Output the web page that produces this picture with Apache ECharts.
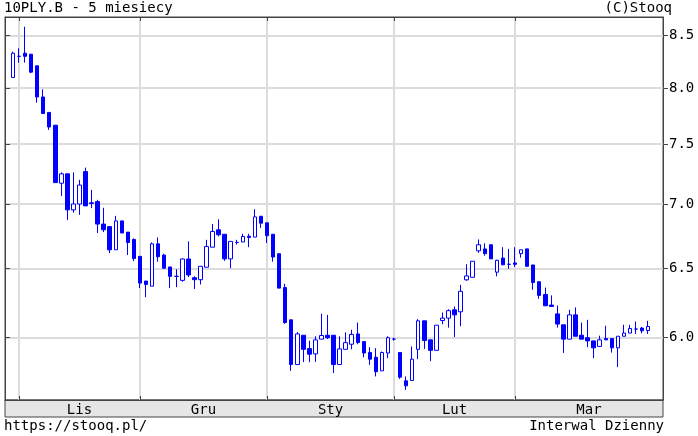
<!DOCTYPE html>
<html><head><meta charset="utf-8">
<script src="https://cdn.jsdelivr.net/npm/echarts@6/dist/echarts.min.js"></script>
<style>html,body{margin:0;padding:0;background:#fff}#c{width:698px;height:436px}</style>
</head><body><div id="c"></div>
<script>
// Daily OHLC of 10PLY.B (Oct 31 .. Mar 31)
const openV = [8.10,8.30,8.33,8.32,8.21,7.92,7.78,7.666,7.17,7.248,
 6.953,7.0,7.267,7.01,7.02,6.84,6.82,6.64,6.865,6.777,
 6.72,6.59,6.405,6.367,6.686,6.60,6.51,6.44,6.41,6.57,
 6.43,6.415,6.508,6.66,6.795,6.76,6.571,6.697,6.70,6.745,
 6.738,6.902,6.85,6.76,6.61,6.357,6.125,5.817,6.017,5.925,
 5.889,5.99,6.017,6.017,5.817,5.92,5.955,6.026,5.973,5.898,
 5.866,5.775,5.895,5.99,5.898,5.709,5.711,5.92,6.118,5.985,
 5.913,6.12,6.137,6.196,6.182,6.414,6.433,6.632,6.647,6.679,
 6.471,6.577,6.53,6.54,6.611,6.647,6.525,6.40,6.307,6.23,
 6.167,6.09,5.99,6.16,6.017,6.0,5.978,5.94,5.994,5.994,
 5.93,6.01,6.032,6.06,6.067,6.05];
const closeV = [8.33,8.30,8.30,8.15,7.92,7.77,7.65,7.175,7.248,6.953,
 7.0,7.155,6.985,7.005,6.84,6.795,6.64,6.865,6.77,6.696,
 6.574,6.39,6.38,6.686,6.587,6.50,6.44,6.44,6.57,6.45,
 6.415,6.515,6.665,6.782,6.756,6.571,6.705,6.697,6.743,6.735,
 6.897,6.847,6.749,6.585,6.353,6.106,5.817,6.026,5.92,5.887,
 5.985,6.015,6.0,5.817,5.923,5.966,6.023,5.967,5.895,5.853,
 5.769,5.898,6.0,5.99,5.733,5.676,5.853,6.118,5.98,5.913,
 6.087,6.137,6.19,6.16,6.33,6.443,6.553,6.679,6.611,6.571,
 6.56,6.526,6.53,6.53,6.64,6.515,6.394,6.30,6.225,6.22,
 6.095,5.99,6.16,6.01,5.99,5.978,5.93,5.985,5.985,5.93,
 6.01,6.032,6.064,6.06,6.048,6.078];
const lowV = [8.10,8.24,8.24,8.14,7.868,7.77,7.625,7.175,7.066,6.873,
 6.93,6.913,6.985,6.967,6.77,6.777,6.615,6.64,6.77,6.60,
 6.554,6.353,6.287,6.367,6.55,6.50,6.353,6.36,6.40,6.435,
 6.346,6.38,6.508,6.66,6.743,6.556,6.50,6.68,6.70,6.66,
 6.738,6.81,6.692,6.55,6.353,6.097,5.775,5.817,5.833,5.833,
 5.835,5.99,5.99,5.76,5.817,5.92,5.92,5.955,5.866,5.815,
 5.738,5.775,5.86,5.98,5.722,5.65,5.711,5.853,5.923,5.84,
 5.913,6.094,6.07,6.005,6.08,6.407,6.433,6.617,6.595,6.571,
 6.44,6.526,6.496,6.51,6.58,6.515,6.341,6.275,6.225,6.22,
 6.07,5.895,5.99,6.01,5.99,5.935,5.86,5.94,5.985,5.898,
 5.80,6.01,6.032,6.026,6.03,6.026];
const highV = [8.345,8.377,8.588,8.32,8.21,7.99,7.78,7.666,7.26,7.248,
 7.26,7.198,7.30,7.115,7.034,6.97,6.82,6.905,6.865,6.777,
 6.728,6.59,6.405,6.697,6.735,6.61,6.51,6.493,6.575,6.705,
 6.44,6.515,6.717,6.841,6.878,6.76,6.705,6.717,6.764,6.764,
 6.958,6.902,6.85,6.76,6.61,6.385,6.125,6.04,6.017,5.979,
 6.01,6.168,6.16,6.017,6.01,6.037,6.055,6.106,5.973,5.935,
 5.928,5.905,6.01,6.0,5.898,5.738,5.94,6.13,6.118,5.985,
 6.087,6.177,6.20,6.22,6.377,6.531,6.553,6.72,6.69,6.679,
 6.565,6.66,6.647,6.66,6.64,6.647,6.525,6.40,6.357,6.30,
 6.227,6.09,6.196,6.213,6.106,6.125,5.978,6.014,6.083,5.994,
 6.01,6.09,6.09,6.113,6.075,6.118];

const monthLabels = ['Lis','Gru','Sty','Lut','Mar'];
const monthStartIdx = [1,21,42,63,83];
const yTickValues = [6.0,6.5,7.0,7.5,8.0,8.5];
const yMin = 5.584, yMax = 8.685;
const xMin = -1.314, xMax = 107.46;

const ln = Math.log;
const candleData = openV.map((o,i)=>[i, ln(o), ln(closeV[i]), ln(lowV[i]), ln(highV[i])]);
const monthEnds = monthStartIdx.slice(1).concat([xMax]);
const monthMid = monthStartIdx.map((s,i)=>(s+monthEnds[i])/2);
const yTickLn = yTickValues.map(v=>ln(v));

const FONT = 'DejaVu Sans Mono';
const BLUE = '#0000ff';
const FRAME = '#444';

const chart = echarts.init(document.getElementById('c'), null, {renderer:'canvas'});
chart.setOption({
  backgroundColor:'#ffffff',
  animation:false,
  title:[
    {text:'10PLY.B - 5 miesiecy', left:4, top:1, padding:0, textStyle:{fontFamily:FONT,fontSize:14,fontWeight:'normal',color:'#000'}},
    {text:'(C)Stooq', right:26, top:1, padding:0, textStyle:{fontFamily:FONT,fontSize:14,fontWeight:'normal',color:'#000'}},
    {text:'https://stooq.pl/', left:4, top:419, padding:0, textStyle:{fontFamily:FONT,fontSize:14,fontWeight:'normal',color:'#000'}},
    {text:'Interwal Dzienny', right:34, top:419, padding:0, textStyle:{fontFamily:FONT,fontSize:14,fontWeight:'normal',color:'#000'}}
  ],
  graphic:[{type:'rect', z:-5, shape:{x:5,y:400,width:658,height:17}, style:{fill:'#e6e6e6',stroke:FRAME,lineWidth:1}}],
  grid:{left:5, right:35, top:17, bottom:36, show:true, borderColor:FRAME, borderWidth:1, backgroundColor:'transparent'},
  xAxis:[
    {type:'value', position:'bottom', min:xMin, max:xMax,
     axisLine:{show:true,onZero:false,lineStyle:{color:FRAME,width:1}},
     axisTick:{show:true,inside:true,length:4,customValues:monthStartIdx,lineStyle:{color:FRAME}},
     splitLine:{show:true,lineStyle:{color:'#dcdcdc',width:2}},
     axisLabel:{show:true,customValues:monthMid,margin:3,fontFamily:FONT,fontSize:14,color:'#000',
       formatter:(v)=>{let k=0; for(let j=0;j<monthStartIdx.length;j++){ if(v>=monthStartIdx[j]) k=j; } return monthLabels[k];}}},
    {type:'value', position:'top', min:xMin, max:xMax,
     axisLine:{show:true,onZero:false,lineStyle:{color:FRAME,width:1}},
     axisTick:{show:true,inside:true,length:4,customValues:monthStartIdx,lineStyle:{color:FRAME}},
     splitLine:{show:false}, axisLabel:{show:false}}
  ],
  yAxis:[
    {type:'value', position:'right', min:ln(yMin), max:ln(yMax),
     axisLine:{show:true,onZero:false,lineStyle:{color:FRAME,width:1}},
     axisTick:{show:true,inside:false,length:5,customValues:yTickLn,lineStyle:{color:FRAME}},
     splitLine:{show:true,lineStyle:{color:'#dcdcdc',width:2}},
     axisLabel:{show:true,customValues:yTickLn,margin:6,fontFamily:FONT,fontSize:14,color:'#000',
       formatter:(v)=>Math.exp(v).toFixed(1)}},
    {type:'value', position:'left', min:ln(yMin), max:ln(yMax),
     axisLine:{show:true,onZero:false,lineStyle:{color:FRAME,width:1}},
     axisTick:{show:true,inside:true,length:5,customValues:yTickLn,lineStyle:{color:FRAME}},
     splitLine:{show:false}, axisLabel:{show:false}}
  ],
  series:[{
    type:'candlestick', xAxisIndex:0, yAxisIndex:0,
    barWidth:4,
    itemStyle:{color:'#ffffff', color0:BLUE, borderColor:BLUE, borderColor0:BLUE, borderWidth:1},
    data:candleData
  }]
});
</script>
</body></html>
